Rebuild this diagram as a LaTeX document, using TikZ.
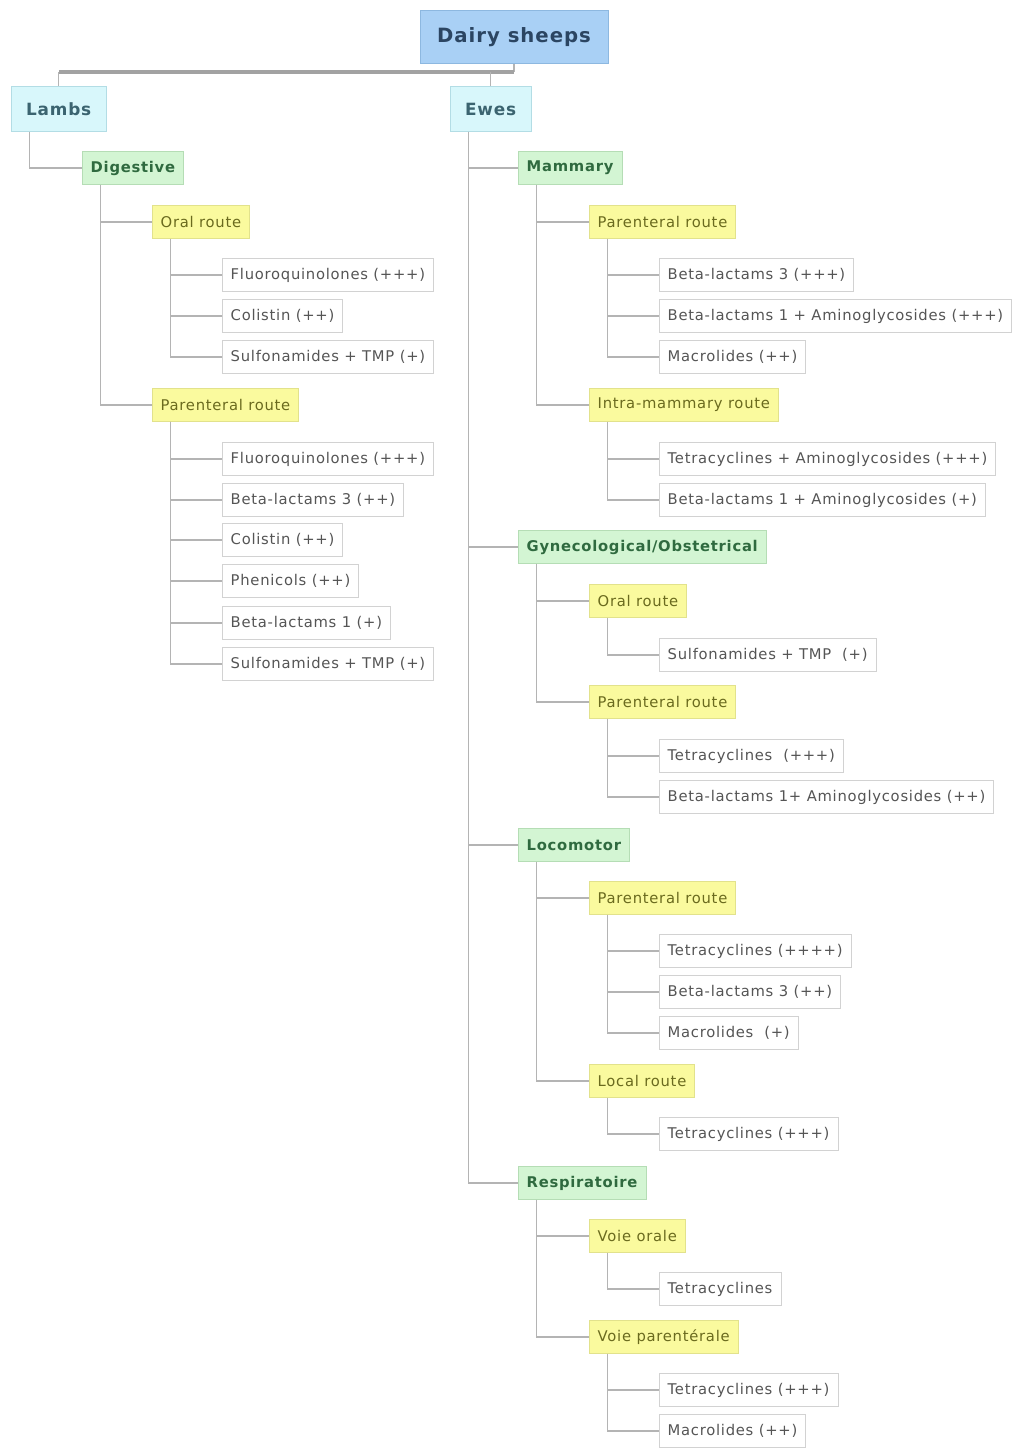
\documentclass[tikz,border=0pt]{standalone}
\usepackage{fontspec}
\setmainfont{DejaVu Sans}[LetterSpace=5]
\usepackage{xcolor}
\usepackage{tikz}

\definecolor{rootfill}{HTML}{A9D0F5}
\definecolor{rootline}{HTML}{8DB8E0}
\definecolor{roottext}{HTML}{2B4562}
\definecolor{cyanfill}{HTML}{D8F7FB}
\definecolor{cyanline}{HTML}{B3DDE5}
\definecolor{cyantext}{HTML}{3B6470}
\definecolor{greenfill}{HTML}{D3F5D3}
\definecolor{greenline}{HTML}{B5DDB5}
\definecolor{greentext}{HTML}{2F6A3F}
\definecolor{yellowfill}{HTML}{FAFA9E}
\definecolor{yellowline}{HTML}{E2E28C}
\definecolor{yellowtext}{HTML}{6A6A1E}
\definecolor{leafline}{HTML}{D2D2D2}
\definecolor{leaftext}{HTML}{555555}
\definecolor{connline}{HTML}{B4B4B4}

\tikzset{
  box/.style={draw, anchor=west, minimum height=23.5pt, inner xsep=6pt, font=\fontsize{10.5}{12}\selectfont},
  topbox/.style={box, fill=cyanfill, draw=cyanline, text=cyantext, minimum height=32pt, inner xsep=10.5pt, font=\fontsize{12}{14}\selectfont\bfseries},
  organ/.style={box, fill=greenfill, draw=greenline, text=greentext, font=\fontsize{10.5}{12}\selectfont\bfseries},
  route/.style={box, fill=yellowfill, draw=yellowline, text=yellowtext},
  drug/.style={box, fill=white, draw=leafline, text=leaftext},
  conn/.style={draw=connline, line width=0.8pt},
  trunk/.style={draw=connline!90!black, line width=2.2pt}
}

\begin{document}
\begin{tikzpicture}[x=0.025cm, y=-0.025cm]

\useasboundingbox (0,0) rectangle (1016,1448);

\node[draw=rootline, fill=rootfill, text=roottext, minimum width=134pt, minimum height=38pt, font=\fontsize{14}{16}\selectfont\bfseries] (root) at (514,37) {Dairy sheeps};

\node[topbox] (lambs) at (11,109) {Lambs};
\node[topbox] (ewes) at (450,109) {Ewes};

\node[organ] (digestive) at (82,168) {Digestive};
\node[route] (loral) at (152,222) {Oral route};
\node[drug] (lo1) at (222,275) {Fluoroquinolones (+++)};
\node[drug] (lo2) at (222,316) {Colistin (++)};
\node[drug] (lo3) at (222,357) {Sulfonamides + TMP (+)};
\node[route] (lpar) at (152,405) {Parenteral route};
\node[drug] (lp1) at (222,459) {Fluoroquinolones (+++)};
\node[drug] (lp2) at (222,500) {Beta-lactams 3 (++)};
\node[drug] (lp3) at (222,540) {Colistin (++)};
\node[drug] (lp4) at (222,581) {Phenicols (++)};
\node[drug] (lp5) at (222,623) {Beta-lactams 1 (+)};
\node[drug] (lp6) at (222,664) {Sulfonamides + TMP (+)};

\node[organ] (mammary) at (518,168) {Mammary};
\node[route] (mpar) at (589,222) {Parenteral route};
\node[drug] (mp1) at (659,275) {Beta-lactams 3 (+++)};
\node[drug] (mp2) at (659,316) {Beta-lactams 1 + Aminoglycosides (+++)};
\node[drug] (mp3) at (659,357) {Macrolides (++)};
\node[route] (mintra) at (589,405) {Intra-mammary route};
\node[drug] (mi1) at (659,459) {Tetracyclines + Aminoglycosides (+++)};
\node[drug] (mi2) at (659,500) {Beta-lactams 1 + Aminoglycosides (+)};

\node[organ] (gyneco) at (518,547) {Gynecological/Obstetrical};
\node[route] (goral) at (589,601) {Oral route};
\node[drug] (go1) at (659,655) {Sulfonamides + TMP~ (+)};
\node[route] (gpar) at (589,702) {Parenteral route};
\node[drug] (gp1) at (659,756) {Tetracyclines~ (+++)};
\node[drug] (gp2) at (659,797) {Beta-lactams 1+ Aminoglycosides (++)};

\node[organ] (locomotor) at (518,845) {Locomotor};
\node[route] (cpar) at (589,898) {Parenteral route};
\node[drug] (cp1) at (659,951) {Tetracyclines (++++)};
\node[drug] (cp2) at (659,992) {Beta-lactams 3 (++)};
\node[drug] (cp3) at (659,1033) {Macrolides~ (+)};
\node[route] (clocal) at (589,1081) {Local route};
\node[drug] (cl1) at (659,1134) {Tetracyclines (+++)};

\node[organ] (respi) at (518,1183) {Respiratoire};
\node[route] (roral) at (589,1236) {Voie orale};
\node[drug] (ro1) at (659,1289) {Tetracyclines};
\node[route] (rpar) at (589,1337) {Voie parentérale};
\node[drug] (rp1) at (659,1390) {Tetracyclines (+++)};
\node[drug] (rp2) at (659,1431) {Macrolides (++)};

\coordinate (split) at (514,72);
\draw[conn] (root.south) -- (split);
\draw[trunk] (split) -- (split -| lambs.north);
\draw[conn] (split -| lambs.north) -- (lambs.north);
\draw[conn] (split -| ewes.north) -- (ewes.north);

\foreach \p/\c in {lambs/digestive, digestive/loral, digestive/lpar,
  loral/lo1, loral/lo2, loral/lo3,
  lpar/lp1, lpar/lp2, lpar/lp3, lpar/lp4, lpar/lp5, lpar/lp6,
  ewes/mammary, ewes/gyneco, ewes/locomotor, ewes/respi,
  mammary/mpar, mammary/mintra, mpar/mp1, mpar/mp2, mpar/mp3, mintra/mi1, mintra/mi2,
  gyneco/goral, gyneco/gpar, goral/go1, gpar/gp1, gpar/gp2,
  locomotor/cpar, locomotor/clocal, cpar/cp1, cpar/cp2, cpar/cp3, clocal/cl1,
  respi/roral, respi/rpar, roral/ro1, rpar/rp1, rpar/rp2}
  \draw[conn] ([xshift=13pt]\p.south west) |- (\c.west);

\end{tikzpicture}
\end{document}
